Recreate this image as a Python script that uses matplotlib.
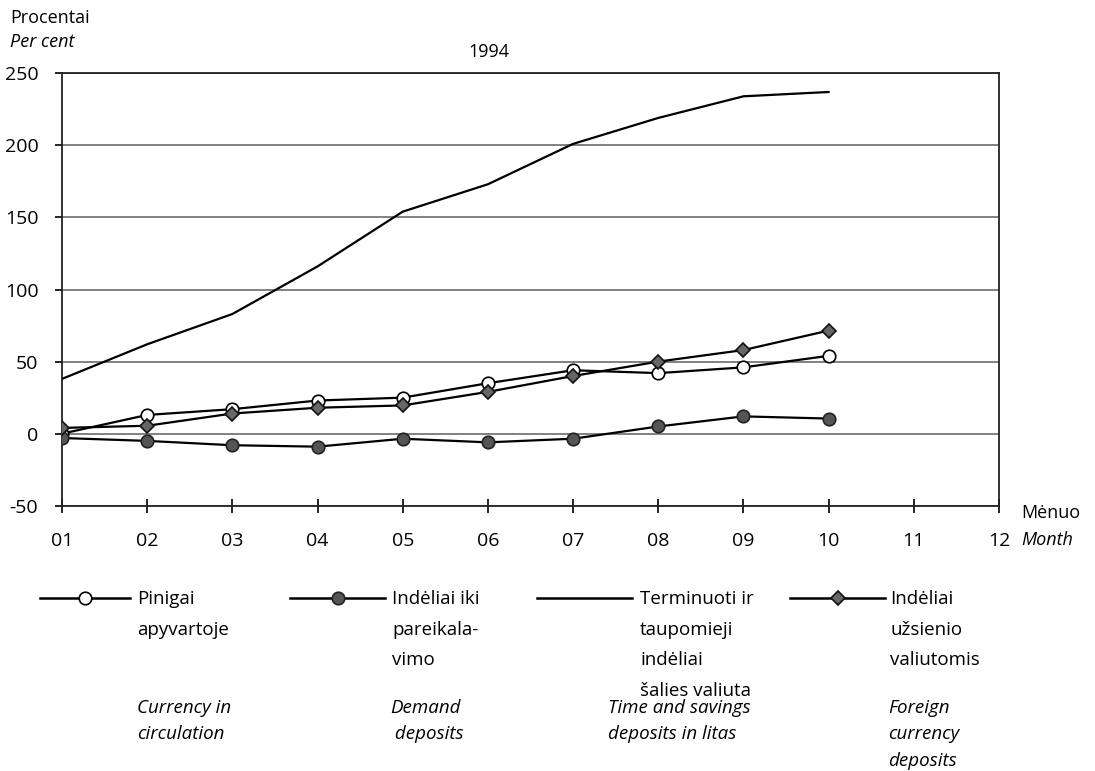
import numpy as np
import matplotlib.pyplot as plt
from matplotlib.lines import Line2D

months = ["01", "02", "03", "04", "05", "06", "07", "08", "09", "10", "11", "12"]
x = np.arange(1, 11)

currency = [0, 13, 17, 23, 25, 35, 44, 42, 46, 54]
demand = [-3, -5, -8, -9, -3.5, -6, -3.5, 5, 12, 10.5]
time_savings = [38, 62, 83, 116, 154, 173, 201, 219, 234, 237]
foreign = [4, 5.5, 14, 18, 19.6, 29, 40, 50, 58, 71.5]

lt_labels = ["Pinigai\napyvartoje", "Indėliai iki\npareikala-\nvimo",
             "Terminuoti ir\ntaupomieji\nindėliai\nšalies valiuta",
             "Indėliai\nužsienio\nvaliutomis"]
en_labels = ["Currency in\ncirculation", "Demand\n deposits",
             "Time and savings\ndeposits in litas", "Foreign\ncurrency\ndeposits"]

plt.rcParams['font.family'] = ['Open Sans', 'DejaVu Sans']
plt.rcParams['axes.unicode_minus'] = False

fig = plt.figure(figsize=(10.95, 7.71), dpi=100)
ax = fig.add_axes([0.0566, 0.344, 0.8557, 0.561])

styles = [
    dict(marker='o', mfc='white', mec='black', ms=9, mew=1.2),
    dict(marker='o', mfc='#555555', mec='#222222', ms=9, mew=1.2),
    dict(marker=None),
    dict(marker='D', mfc='#666666', mec='#111111', ms=7, mew=1.2),
]
series = [currency, demand, time_savings, foreign]
for s, st in zip(series, styles):
    ax.plot(x, s, color='black', lw=1.6, zorder=3, **st)

ax.set_xlim(1, 12)
ax.set_ylim(-50, 250)
ax.set_xticks(range(1, 13))
ax.set_xticklabels(months)
ax.set_yticks(range(-50, 251, 50))
ax.yaxis.grid(True, color='#777777', lw=1.3)
ax.set_axisbelow(True)
for sp in ax.spines.values():
    sp.set_color('#222222')
    sp.set_linewidth(1.3)
ax.tick_params(axis='x', direction='inout', length=10, width=1.2, labelsize=14, pad=14)
ax.tick_params(axis='y', direction='out', length=5, width=1.2, labelsize=14, pad=12)

fig.text(0.009, 0.977, "Procentai", fontsize=13, va='center')
fig.text(0.009, 0.945, "Per cent", fontsize=13, style='italic', va='center')
fig.text(0.447, 0.932, "1994", fontsize=13, ha='center', va='center')
fig.text(0.933, 0.335, "Mėnuo", fontsize=13, va='center')
fig.text(0.933, 0.300, "Month", fontsize=13, style='italic', va='center')

W, H = 1095, 771
line_x = [(40, 130), (290, 385), (537, 632), (790, 885)]
text_x = [137, 392, 640, 890]
en_x = [137, 390, 608, 888]
ly = 598
for (x0, x1), tx, ex, st, lt, en in zip(line_x, text_x, en_x, styles, lt_labels, en_labels):
    fig.add_artist(Line2D([x0 / W, x1 / W], [1 - ly / H] * 2, color='black', lw=1.8))
    if st['marker']:
        mk = {k: v for k, v in st.items()}
        fig.add_artist(Line2D([(x0 + x1) / 2 / W], [1 - ly / H], lw=0, **mk))
    fig.text(tx / W, 1 - (ly - 8) / H, lt, fontsize=13.5, va='top', linespacing=1.9)
    fig.text(ex / W, 1 - (705 - 6) / H, en, fontsize=13.5, style='italic', va='top',
             linespacing=1.6)

fig.savefig("out.png", dpi=100)
